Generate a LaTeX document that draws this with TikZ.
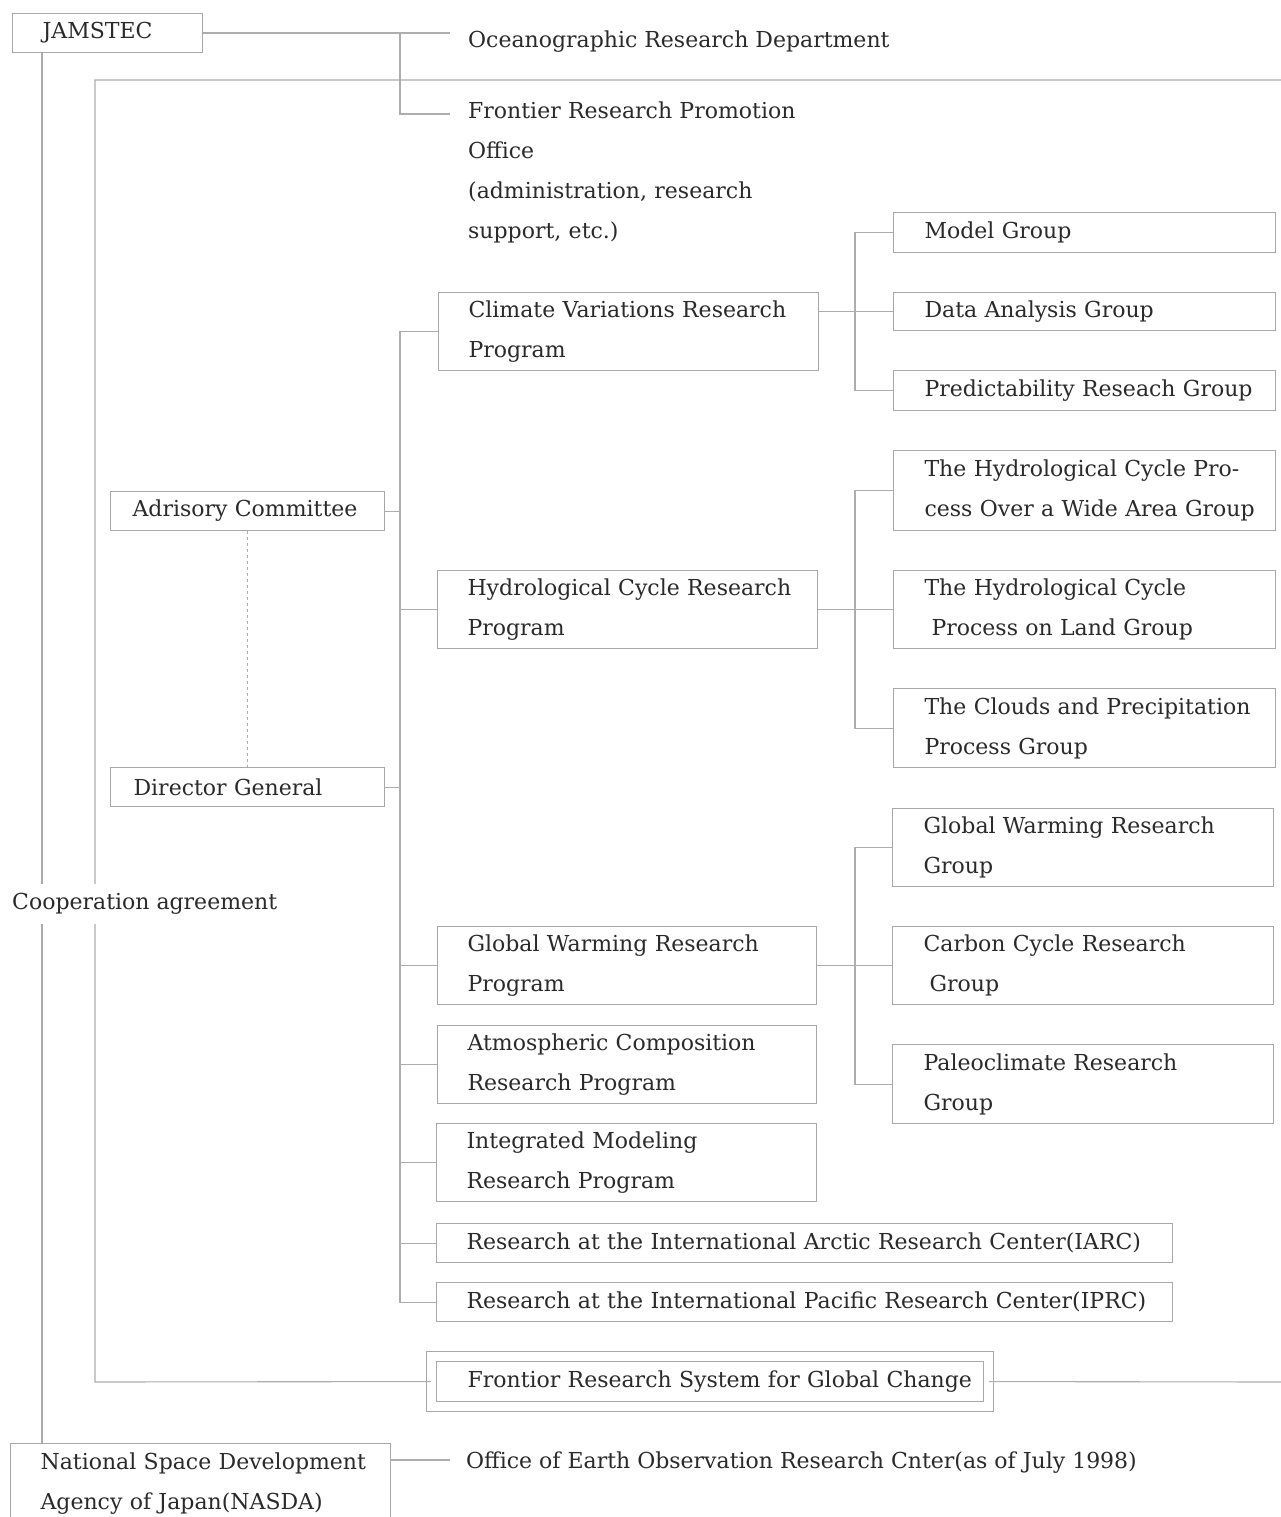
\documentclass[tikz,border=0pt]{standalone}
\usepackage{fontspec}
\setmainfont{DejaVu Serif}
\usetikzlibrary{positioning}
\definecolor{inkgray}{HTML}{2A2A2A}
\definecolor{boxgray}{HTML}{A8A8A8}
\definecolor{linegray}{HTML}{ADADAD}
\newcommand\orgfont{\fontsize{22}{40}\selectfont}

\begin{document}
\begin{tikzpicture}[x=1pt, y=-1pt,
  every node/.style={text=inkgray, font=\orgfont},
  orgbox/.style={draw=boxgray, line width=1.1pt, anchor=north west,
    inner xsep=0pt, inner ysep=0pt, align=left,
    execute at begin node={\leftskip=#1}},
  orgbox/.default=30pt,
  plain/.style={anchor=base west, inner xsep=18pt, inner ysep=0pt, align=left},
  link/.style={draw=linegray, line width=1.1pt}
]
\useasboundingbox[fill=white] (0,0) rectangle (1281,1517);

% head and offices
\node[orgbox, text width=190pt, minimum height=39pt] (jam) at (12,13) {JAMSTEC};
\node[plain] (ocean) at (450,48) {Oceanographic Research Department};
\node[plain, text width=330pt] (fro) at (450,119)
  {Frontier Research Promotion\\Office\\(administration, research\\support, etc.)};

% left column
\node[orgbox=22pt, text width=274pt, minimum height=39pt] (adv) at (110,491) {Adrisory Committee};
\node[orgbox=23pt, text width=274pt, minimum height=39pt] (dg) at (110,767) {Director General};

% research programs
\node[orgbox, text width=380pt, minimum height=78pt] (cvp) at (438,292) {Climate Variations Research\\Program};
\node[orgbox, text width=380pt, minimum height=78pt] (hcp) at (437,570) {Hydrological Cycle Research\\Program};
\node[orgbox, text width=379pt, minimum height=78pt] (gwp) at (437,926) {Global Warming Research\\Program};
\node[orgbox, text width=379pt, minimum height=78pt] (acp) at (437,1025) {Atmospheric Composition\\Research Program};
\node[orgbox, text width=380pt, minimum height=78pt] (imp) at (436,1123) {Integrated Modeling\\Research Program};
\node[orgbox, text width=736pt, minimum height=39pt] (iarc) at (436,1223) {Research at the International Arctic Research Center(IARC)};
\node[orgbox, text width=736pt, minimum height=39pt] (iprc) at (436,1282) {Research at the International Pacific Research Center(IPRC)};

% groups
\node[orgbox=31pt, text width=382pt, minimum height=40pt] (mg) at (893,212) {Model Group};
\node[orgbox=31pt, text width=382pt, minimum height=38pt] (dag) at (893,292) {Data Analysis Group};
\node[orgbox=31pt, text width=382pt, minimum height=40pt] (prg) at (893,370) {Predictability Reseach Group};
\node[orgbox=31pt, text width=382pt, minimum height=80pt] (hwg) at (893,450) {The Hydrological Cycle Pro-\\cess Over a Wide Area Group};
\node[orgbox=31pt, text width=382pt, minimum height=78pt] (hlg) at (893,570) {The Hydrological Cycle\\\hspace*{7pt}Process on Land Group};
\node[orgbox=31pt, text width=382pt, minimum height=79pt] (cpg) at (893,688) {The Clouds and Precipitation\\Process Group};
\node[orgbox=31pt, text width=381pt, minimum height=78pt] (gwg) at (892,808) {Global Warming Research\\Group};
\node[orgbox=31pt, text width=381pt, minimum height=78pt] (ccg) at (892,926) {Carbon Cycle Research\\\hspace*{6pt}Group};
\node[orgbox=31pt, text width=381pt, minimum height=79pt] (pcg) at (892,1044) {Paleoclimate Research\\Group};

% system and partner
\node[orgbox=36pt, text width=557pt, minimum height=50pt, double, double distance=9pt] (frsgc) at (431,1356)
  {Frontior Research System for Global Change};
\node[orgbox, text width=380pt, minimum height=80pt] (nasda) at (10,1443)
  {National Space Development\\Agency of Japan(NASDA)};
\node[plain, inner xsep=16pt] (eorc) at (450,1468)
  {Office of Earth Observation Research Cnter(as of July 1998)};

% bus lines
\coordinate (split) at (400,0);
\coordinate (trunk) at (400,0);
\coordinate (gbus) at (855,0);
\coordinate (frameTR) at (1281,80);
\coordinate (fcorner) at (95,1382);
\coordinate (frameBR) at (1281,1382);

\draw[link] (jam.east) -- (jam.east -| ocean.west);
\draw[link] (jam.east -| split) |- ([yshift=5pt]fro.base west);
\draw[link] (frameTR) -| (fcorner) -- (frsgc.west);
\draw[link] (frsgc.east) -- (frameBR);
\draw[link] ([xshift=30pt]jam.south west) -- ([xshift=32pt]nasda.north west);
\draw[link] ([yshift=8pt]eorc.base west -| nasda.east) -- ([yshift=8pt]eorc.base west);

\draw[link] (cvp.west) -- (cvp.west -| trunk) -- (iprc.west -| trunk) -- (iprc.west);
\foreach \p in {hcp,gwp,acp,imp,iarc}
  \draw[link] (\p.west) -- (\p.west -| trunk);
\foreach \p in {adv,dg}
  \draw[link] (\p.east) -- (\p.east -| trunk);
\draw[link, line width=0.9pt, dash pattern=on 3pt off 3pt] (adv.south) -- (dg.north);

\foreach \p/\a/\b/\c in {cvp/mg/dag/prg, hcp/hwg/hlg/cpg, gwp/gwg/ccg/pcg} {
  \draw[link] (\b.west -| \p.east) -- (\b.west);
  \draw[link] (\a.west) -| (gbus |- \c.west) -- (\c.west);
}

\node[anchor=west, fill=white, inner xsep=0pt, minimum height=40pt] (coop) at (12,904) {Cooperation agreement};
\end{tikzpicture}
\end{document}
